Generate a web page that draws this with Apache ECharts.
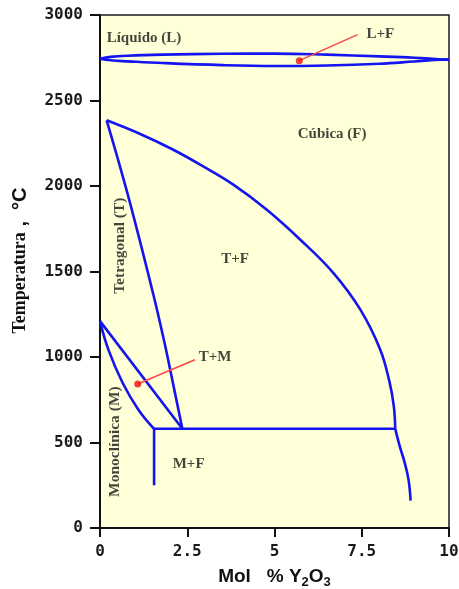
<!DOCTYPE html>
<html>
<head>
<meta charset="utf-8">
<script src="https://cdn.jsdelivr.net/npm/echarts@6/dist/echarts.min.js"></script>
<style>
  html, body { margin: 0; padding: 0; background: #ffffff; }
  #chart { width: 459px; height: 589px; }
</style>
</head>
<body>
<div id="chart"></div>
<script>
// ZrO2 – Y2O3 phase diagram: composition in mol % Y2O3, temperature in °C

// axis ranges
const xRange = [0, 10, 2.5];
const yRange = [0, 3000, 500];

// liquid / cubic two-phase lens
const liquidusUpper = [[0, 2744], [0.3, 2755], [0.8, 2762], [1.8, 2768], [3.5, 2773], [5, 2774], [6.5, 2768], [8, 2758], [9, 2750], [9.8, 2740], [10, 2739]];
const liquidusLower = [[0, 2744], [0.3, 2735], [0.8, 2729], [1.8, 2719], [3.5, 2707], [5, 2702], [6.5, 2705], [8, 2715], [9, 2728], [9.8, 2739], [10, 2739]];

// tetragonal solvus (T / T+F)
const tetragonalSolvus = [[0.19, 2384], [0.81, 1939], [1.53, 1364], [1.85, 1082], [2.05, 887], [2.36, 580]];

// cubic solvus (T+F / F) above and below the eutectoid
const cubicSolvus = [[0.19, 2384], [1.2, 2300], [2.1, 2212], [2.87, 2125], [3.82, 2008], [4.78, 1861], [5.74, 1686], [6.69, 1491], [7.46, 1277], [8.03, 1043], [8.3, 850], [8.42, 710], [8.46, 580]];
const cubicSolvusLow = [[8.46, 580], [8.6, 470], [8.72, 390], [8.84, 283], [8.9, 160]];

// monoclinic / tetragonal transformation boundaries
const tmUpper = [[0, 1210], [2.36, 580]];
const tmLower = [[0, 1210], [0.24, 1043], [0.65, 848], [1.1, 692], [1.55, 580]];

// eutectoid isotherm and the M / M+F boundary
const eutectoid = [[1.55, 580], [8.46, 580]];
const monoclinicSolvus = [[1.55, 580], [1.55, 250]];

// leader lines for the narrow two-phase fields
const leaderLF = [[5.71, 2733], [7.38, 2885]];
const leaderTM = [[1.08, 842], [2.72, 984]];

// phase field names and their anchor positions
const fieldNames = ['Líquido (L)', 'L+F', 'Cúbica (F)', 'T+F', 'T+M', 'M+F'];
const fieldPos = [[1.26, 2865], [8.03, 2887], [6.65, 2302], [3.87, 1570], [3.3, 1000], [2.54, 375]];
const verticalNames = ['Tetragonal (T)', 'Monoclínica (M)'];
const verticalPos = [[0.57, 1651], [0.43, 505]];

const BLUE = '#1414f0';
const serif = 'Liberation Serif';

function boundary(data, smooth) {
  return {
    type: 'line', data: data, symbol: 'none', silent: true, smooth: smooth || false,
    lineStyle: { color: BLUE, width: 2.6 }, z: 3
  };
}
function leader(data) {
  return {
    type: 'line', data: data, symbol: 'none', silent: true,
    lineStyle: { color: '#ff4545', width: 1.5 }, z: 4
  };
}

const labelStyle = {
  show: true, position: 'inside', fontFamily: serif, fontWeight: 'bold',
  fontSize: 15, color: '#151515'
};

const chart = echarts.init(document.getElementById('chart'), null, { renderer: 'canvas' });

chart.setOption({
  animation: false,
  backgroundColor: '#ffffff',
  grid: {
    left: 100, right: 10, top: 15, bottom: 61,
    containLabel: false, outerBoundsMode: 'none',
    show: true, backgroundColor: '#ffffd8', borderColor: '#1a1a1a', borderWidth: 1.5
  },
  xAxis: {
    type: 'value', min: xRange[0], max: xRange[1], interval: xRange[2],
    splitLine: { show: false },
    axisLine: { show: true, onZero: false, lineStyle: { color: '#111', width: 2 } },
    axisTick: { show: true, length: 9, lineStyle: { color: '#111', width: 2 } },
    axisLabel: {
      margin: 16, fontFamily: 'DejaVu Sans Mono', fontWeight: 'bold', fontSize: 16,
      color: '#1a1a1a', showMinLabel: true, showMaxLabel: true,
      formatter: v => String(v)
    },
    name: '{a|Mol   %}{b| Y}{s|2}{b|O}{s|3}',
    nameLocation: 'middle', nameGap: 37,
    nameTextStyle: {
      rich: {
        a: { fontFamily: 'Liberation Sans', fontWeight: 'bold', fontSize: 19, color: '#111' },
        b: { fontFamily: 'Liberation Sans', fontWeight: 'bold', fontSize: 19, color: '#111' },
        s: { fontFamily: 'Liberation Sans', fontWeight: 'bold', fontSize: 13, color: '#111', padding: [11, 0, 0, 0] }
      }
    }
  },
  yAxis: {
    type: 'value', min: yRange[0], max: yRange[1], interval: yRange[2],
    splitLine: { show: false },
    axisLine: { show: true, onZero: false, lineStyle: { color: '#111', width: 2 } },
    axisTick: { show: true, length: 10, lineStyle: { color: '#111', width: 2 } },
    axisLabel: {
      margin: 17, fontFamily: 'DejaVu Sans Mono', fontWeight: 'bold', fontSize: 16,
      color: '#1a1a1a', showMinLabel: true, showMaxLabel: true,
      formatter: v => String(v)
    },
    name: '{p|}{t|Temperatura}{c| ,  °C}',
    nameLocation: 'middle', nameGap: 70, nameRotate: 90,
    nameTextStyle: {
      rich: {
        p: { width: 22 },
        t: { fontFamily: serif, fontWeight: 'bold', fontSize: 18, color: '#111' },
        c: { fontFamily: 'Liberation Sans', fontWeight: 'bold', fontSize: 20, color: '#111' }
      }
    }
  },
  series: [
    boundary(liquidusUpper, 0.4),
    boundary(liquidusLower, 0.4),
    boundary(tetragonalSolvus, 0.4),
    boundary(cubicSolvus, 0.4),
    boundary(cubicSolvusLow, 0.4),
    boundary(tmUpper),
    boundary(tmLower, 0.4),
    boundary(eutectoid),
    boundary(monoclinicSolvus),
    leader(leaderLF),
    leader(leaderTM),
    {
      type: 'scatter', silent: true, z: 5, symbolSize: 7,
      itemStyle: { color: '#ee1010' },
      data: [leaderLF[0], leaderTM[0]]
    },
    {
      type: 'scatter', silent: true, z: 6, symbolSize: 1,
      itemStyle: { color: 'rgba(0,0,0,0)' },
      label: Object.assign({}, labelStyle, { formatter: p => fieldNames[p.dataIndex] }),
      data: fieldPos
    },
    {
      type: 'scatter', silent: true, z: 6, symbolSize: 1,
      itemStyle: { color: 'rgba(0,0,0,0)' },
      label: Object.assign({}, labelStyle, {
        rotate: 90,
        formatter: p => verticalNames[p.dataIndex],
        fontSize: 15.5
      }),
      data: verticalPos
    }
  ]
});
</script>
</body>
</html>
